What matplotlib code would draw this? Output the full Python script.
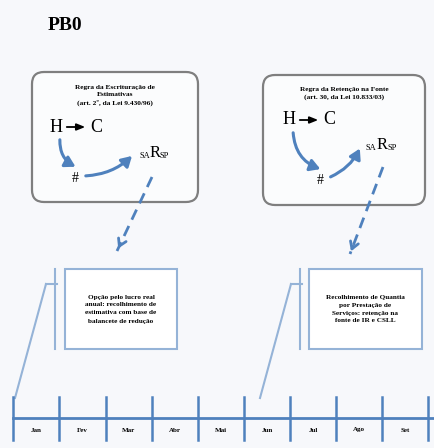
import matplotlib
matplotlib.use('Agg')
import matplotlib.pyplot as plt
from matplotlib.patches import FancyBboxPatch, FancyArrowPatch, Rectangle

# months on the timeline
months = ['Jan', 'Fev', 'Mar', 'Abr', 'Mai', 'Jun', 'Jul', 'Ago', 'Set']
title = 'PB0'
rule_left = 'Regra da Escrituração de\nEstimativas\n(art. 2º, da Lei 9.430/96)'
rule_right = 'Regra da Retenção na Fonte\n(art. 30, da Lei 10.833/03)'
note_left = 'Opção pelo lucro real\nanual: recolhimento de\nestimativa com base de\nbalancete de redução'
note_right = 'Recolhimento de Quantia\npor Prestação de\nServiços: retenção na\nfonte de IR e CSLL'

serif = ['Liberation Serif', 'DejaVu Serif']
blue = '#4f81bd'
light = '#95b3d7'

fig = plt.figure(figsize=(4.34, 4.48), dpi=100)
fig.patch.set_facecolor('#f7f8fb')
ax = fig.add_axes([0, 0, 1, 1])
ax.set_xlim(0, 434)
ax.set_ylim(448, 0)
ax.axis('off')

ax.text(48, 25, title, fontsize=14, fontweight='bold', family=serif, va='center')


def rule_box(x0, y0, x1, y1, label, ly, hc, hs, sa):
    ax.add_patch(FancyBboxPatch((x0 + 12, y0 + 12), x1 - x0 - 24, y1 - y0 - 24,
                                boxstyle='round,pad=12', fc='#fbfcfd', ec='#7f7f7f', lw=1.6))
    ax.text((x0 + x1) / 2, ly, label, fontsize=5.3, fontweight='bold', family=serif,
            ha='center', va='top', linespacing=1.5)
    ax.text(hc[0], hc[1], 'H', fontsize=13, family=serif, va='center')
    ax.text(hc[0] + 40, hc[1], 'C', fontsize=13, family=serif, va='center')
    ax.annotate('', xy=(hc[0] + 38, hc[1]), xytext=(hc[0] + 14, hc[1]),
                arrowprops=dict(arrowstyle='-|>,head_length=0.5,head_width=0.2', color='black', lw=1.3))
    ax.text(hs[0], hs[1], '#', fontsize=10, family=serif, ha='center', va='center')
    ax.text(sa[0], sa[1] + 3, 'SA', fontsize=6, family=serif, va='center')
    ax.text(sa[0] + 11, sa[1], 'R', fontsize=12, family=serif, va='center')
    ax.text(sa[0] + 21, sa[1] + 3, 'SP', fontsize=6, family=serif, va='center')
    # curved arrows
    ax.add_patch(FancyArrowPatch((hc[0] + 10, hc[1] + 10), (hs[0] + 3, hs[1] - 10),
                                 connectionstyle='arc3,rad=0.35', arrowstyle='-|>,head_length=6,head_width=3.5',
                                 color=blue, lw=2.2, mutation_scale=1))
    ax.add_patch(FancyArrowPatch((hs[0] + 8, hs[1] - 2), (sa[0] - 5, sa[1] + 1),
                                 connectionstyle='arc3,rad=0.2', arrowstyle='-|>,head_length=6,head_width=3.5',
                                 color=blue, lw=2.2, mutation_scale=1))


rule_box(32, 72, 198, 202, rule_left, 85, (50, 127), (75, 178), (139, 153))
rule_box(263, 75, 425, 205, rule_right, 87, (283, 120), (320, 180), (366, 145))

# dashed arrows from rule boxes to notes
for p0, p1 in [((152, 177), (117, 251)), ((383, 167), (350, 254))]:
    ax.plot([p0[0], p1[0]], [p0[1], p1[1]], color=blue, lw=2, linestyle=(0, (4, 2.5)))
    dx, dy = p1[0] - p0[0], p1[1] - p0[1]
    ax.annotate('', xy=p1, xytext=(p1[0] - dx * 0.12, p1[1] - dy * 0.12),
                arrowprops=dict(arrowstyle='->,head_length=0.5,head_width=0.3', color=blue, lw=2))


def note_box(x0, x1, bx, label, tx):
    ax.add_patch(Rectangle((x0, 269), x1 - x0, 80, fc='white', ec=light, lw=1.5))
    ax.text((x0 + x1) / 2, 309, label, fontsize=5.2, fontweight='bold', family=serif,
            ha='center', va='center', linespacing=1.75)
    ax.plot([bx, bx], [269, 349], color=light, lw=1.5)
    ax.plot([bx - 9, bx + 2], [284, 284], color=light, lw=1.5)
    ax.plot([bx - 9, tx], [284, 398], color=light, lw=1.5)


note_box(65, 177, 55, note_left, 15)
note_box(309, 422, 300, note_right, 260)

# timeline
x0, step = 13.3, 46.1
ax.plot([x0, 434], [418, 418], color=blue, lw=2)
for i in range(len(months) + 1):
    xi = x0 + i * step
    ax.plot([xi, xi], [397, 440], color=blue, lw=1.8)
for i, m in enumerate(months):
    ax.text(x0 + (i + 0.5) * step, 430, m, fontsize=5, fontweight='bold', family=serif,
            ha='center', va='center')

fig.savefig('out.png', dpi=100, facecolor=fig.get_facecolor())
